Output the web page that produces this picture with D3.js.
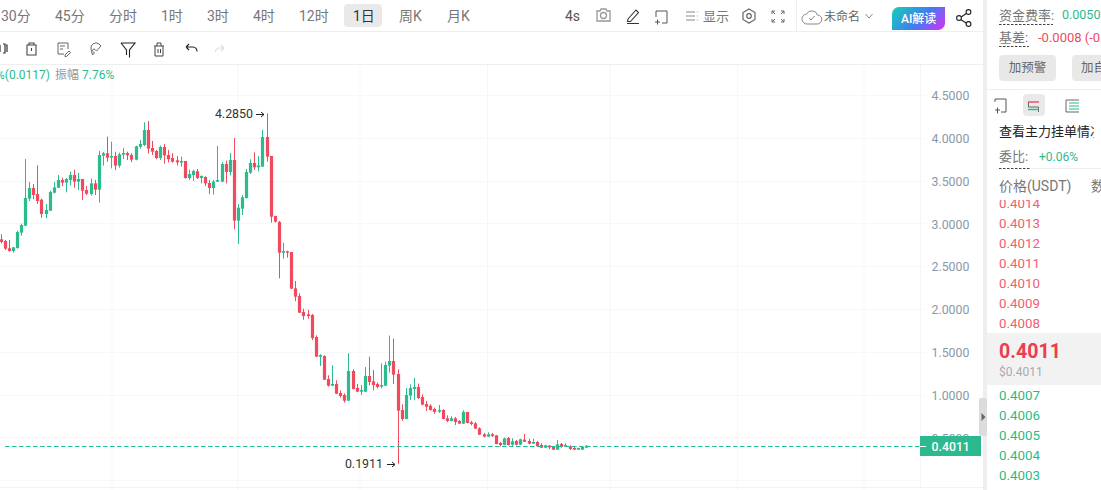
<!DOCTYPE html>
<html><head><meta charset="utf-8">
<script src="https://cdn.jsdelivr.net/npm/d3@7/dist/d3.min.js"></script>
<style>
html,body{margin:0;padding:0;background:#fff;overflow:hidden}
svg{display:block}
text{font-family:Roboto,"Noto Sans CJK SC",sans-serif}
</style></head><body>
<svg id="c" width="1101" height="490"></svg>
<script>
const opens=[2.814,2.794,2.709,2.678,2.713,2.892,2.974,3.289,3.414,3.343,
3.277,3.110,3.149,3.359,3.417,3.507,3.476,3.507,3.565,3.488,
3.519,3.390,3.343,3.468,3.394,3.791,3.819,3.768,3.787,3.675,
3.803,3.822,3.799,3.745,3.896,3.916,4.091,3.881,3.846,3.764,
3.893,3.799,3.764,3.737,3.710,3.729,3.530,3.565,3.608,3.530,
3.542,3.472,3.414,3.488,3.488,3.694,3.601,3.741,3.032,3.172,
3.297,3.593,3.706,3.655,3.663,4.009,3.787,3.086,3.016,2.658,
2.674,2.666,2.241,2.152,1.965,1.938,1.930,1.673,1.443,1.451,
1.182,1.104,1.124,1.019,0.995,0.929,1.276,1.077,1.034,1.034,
1.217,1.155,1.124,1.093,1.104,1.338,1.393,1.241,0.820,0.715,
0.988,1.066,1.089,0.972,0.890,0.871,0.832,0.801,0.820,0.723,
0.692,0.723,0.692,0.661,0.797,0.676,0.664,0.606,0.536,0.509,
0.536,0.524,0.435,0.411,0.493,0.415,0.458,0.415,0.474,0.458,
0.427,0.446,0.411,0.380,0.404,0.388,0.357,0.423,0.392,0.396,
0.376,0.357,0.357,0.380];
const closes=[2.783,2.705,2.678,2.720,2.899,2.981,3.297,3.414,3.332,3.262,
3.110,3.157,3.367,3.421,3.507,3.476,3.519,3.565,3.488,3.519,
3.382,3.347,3.468,3.394,3.799,3.819,3.768,3.787,3.675,3.807,
3.822,3.795,3.745,3.900,3.928,4.091,3.873,3.838,3.764,3.893,
3.795,3.749,3.721,3.713,3.729,3.530,3.577,3.612,3.530,3.554,
3.468,3.414,3.488,3.507,3.694,3.601,3.741,3.032,3.184,3.305,
3.601,3.706,3.655,3.678,4.009,3.780,3.079,3.020,2.658,2.678,
2.658,2.238,2.144,1.957,1.918,1.918,1.661,1.443,1.463,1.174,
1.104,1.124,1.011,0.984,0.929,1.276,1.065,1.034,1.054,1.217,
1.147,1.112,1.089,1.112,1.346,1.393,1.233,0.812,0.715,0.995,
1.077,1.089,0.960,0.883,0.859,0.820,0.797,0.820,0.715,0.692,
0.723,0.680,0.661,0.797,0.668,0.657,0.602,0.532,0.509,0.536,
0.517,0.423,0.411,0.489,0.411,0.454,0.415,0.478,0.450,0.427,
0.446,0.396,0.380,0.407,0.384,0.357,0.419,0.388,0.411,0.365,
0.357,0.376,0.388,0.4011];
const highs=[2.872,2.806,2.806,2.724,2.915,2.997,3.752,3.484,3.460,3.678,
3.289,3.227,3.382,3.484,3.565,3.534,3.530,3.604,3.628,3.589,
3.519,3.437,3.523,3.507,3.846,3.834,4.013,3.955,3.838,3.826,
3.881,3.838,3.819,3.908,3.974,4.181,4.196,3.963,3.857,3.908,
3.928,3.857,3.819,3.787,3.780,3.729,3.628,3.628,3.636,3.561,
3.550,3.507,3.507,3.904,3.717,3.733,3.822,3.998,3.227,3.332,
3.636,3.749,3.830,3.787,4.091,4.285,3.787,3.090,3.028,2.775,
2.681,2.666,2.327,2.183,2.004,1.988,1.942,1.692,1.471,1.459,
1.225,1.342,1.167,1.050,1.015,1.482,1.295,1.124,1.112,1.322,
1.443,1.287,1.143,1.365,1.385,1.689,1.654,1.295,0.886,1.077,
1.120,1.194,1.128,1.003,0.925,0.886,0.848,0.879,0.828,0.758,
0.746,0.739,0.703,0.816,0.797,0.692,0.680,0.618,0.552,0.559,
0.552,0.528,0.446,0.497,0.505,0.489,0.470,0.485,0.540,0.485,
0.485,0.458,0.431,0.415,0.411,0.392,0.470,0.435,0.431,0.407,
0.388,0.380,0.396,0.411];
const lows=[2.767,2.689,2.670,2.658,2.705,2.857,2.970,3.262,3.281,3.227,
3.067,3.059,3.145,3.351,3.414,3.437,3.363,3.445,3.417,3.390,
3.273,3.332,3.324,3.332,3.242,3.675,3.721,3.643,3.624,3.651,
3.752,3.741,3.717,3.737,3.873,3.904,3.815,3.799,3.749,3.741,
3.698,3.713,3.710,3.675,3.663,3.523,3.507,3.499,3.519,3.468,
3.437,3.343,3.336,3.484,3.480,3.468,3.561,2.931,2.760,3.098,
3.289,3.577,3.624,3.608,3.663,3.721,3.009,3.009,2.358,2.588,
2.600,2.234,2.090,1.953,1.875,1.887,1.638,1.439,1.334,1.171,
1.093,1.101,1.007,0.964,0.906,0.925,1.062,1.027,0.995,1.030,
1.108,1.050,1.073,1.073,1.101,1.256,1.124,0.1911,0.692,0.711,
0.937,0.933,0.949,0.875,0.809,0.812,0.777,0.785,0.711,0.680,
0.688,0.645,0.657,0.657,0.664,0.641,0.598,0.528,0.501,0.505,
0.505,0.419,0.396,0.407,0.407,0.400,0.407,0.411,0.446,0.419,
0.423,0.392,0.376,0.376,0.365,0.353,0.353,0.380,0.388,0.353,
0.353,0.353,0.353,0.376];
const yTicks=[0.5,1,1.5,2,2.5,3,3.5,4,4.5];
const lastPrice=0.4011, maxPrice=4.285, minPrice=0.1911;
const timeframes=["30分","45分","分时","1时","3时","4时","12时","1日","周K","月K"];
const askPrices=["0.4014","0.4013","0.4012","0.4011","0.4010","0.4009","0.4008"];
const bidPrices=["0.4007","0.4006","0.4005","0.4004","0.4003"];

const RED="#ef4a5e",GREEN="#2cba8f",GRID="#f7f7f7";
const svg=d3.select("#c");
const x=d3.scaleLinear().domain([0,opens.length-1]).range([1,586.4]);
const y=d3.scaleLinear().domain([0,4.5]).range([480.2,95]);
const vGrid=[112,238,360,487.5,610,737.5,864];

function T(tx,ty,s,size,fill,o={}){
  return svg.append("text").attr("x",tx).attr("y",ty).attr("dy","0.35em").attr("font-size",size)
    .attr("fill",fill).attr("font-weight",o.w||400).attr("text-anchor",o.a||"start").text(s);
}
function P(d,stroke="#444",w=1,fill="none"){return svg.append("path").attr("d",d).attr("stroke",stroke).attr("stroke-width",w).attr("fill",fill);}
function R(rx,ry,w,h,fill,r=0){return svg.append("rect").attr("x",rx).attr("y",ry).attr("width",w).attr("height",h).attr("fill",fill).attr("rx",r);}

// grid
svg.append("g").selectAll("line").data([0].concat(yTicks)).join("line")
  .attr("x1",0).attr("x2",d=>d===0?920:925).attr("y1",d=>Math.round(y(d))+.5).attr("y2",d=>Math.round(y(d))+.5).attr("stroke",GRID);
svg.append("g").selectAll("line").data(vGrid).join("line")
  .attr("x1",d=>d).attr("x2",d=>d).attr("y1",65).attr("y2",490).attr("stroke",GRID);
P("M920.5 65V487","#f4f4f4");
P("M0 487.5H983","#f3f3f3");
// axis
const ax=svg.append("g").attr("transform","translate(931.5,0.7)").call(d3.axisRight(y).tickValues(yTicks).tickSize(0).tickPadding(0).tickFormat(d3.format(".4f")));
ax.select(".domain").remove();
ax.selectAll("text").attr("font-size",12.3).attr("fill","#8b98a6").style("font-family","Roboto");
// candles
const idx=d3.range(opens.length);
const col=i=>closes[i]>=opens[i]?GREEN:RED;
svg.append("g").selectAll("line").data(idx).join("line")
  .attr("x1",i=>Math.floor(x(i))+.5).attr("x2",i=>Math.floor(x(i))+.5)
  .attr("y1",i=>y(highs[i])).attr("y2",i=>y(lows[i])).attr("stroke",col).attr("stroke-width",1);
svg.append("g").selectAll("rect").data(idx).join("rect")
  .attr("x",i=>Math.floor(x(i))+.5-1.6).attr("width",3.2)
  .attr("y",i=>y(Math.max(opens[i],closes[i])))
  .attr("height",i=>Math.max(1,Math.abs(y(opens[i])-y(closes[i])))).attr("fill",col);
// last price line
const lastY=Math.round(y(lastPrice))+.5;
svg.append("line").attr("x1",5).attr("x2",920).attr("y1",lastY).attr("y2",lastY)
  .attr("stroke","#1fc096").attr("stroke-dasharray","4.5 2.5").attr("stroke-width",1);
R(920,436,61,20,"#2cb98f");
P(`M920 ${lastY}H926`,"#fff");
T(931.5,446.3,d3.format(".4f")(lastPrice),12.3,"#fff",{w:500});
// extreme labels
T(253,y(maxPrice),d3.format(".4f")(maxPrice),12.4,"#333",{a:"end"});
T(383,y(minPrice)-.5,d3.format(".4f")(minPrice),12.4,"#333",{a:"end"});
const arrow=(ax0,ay)=>P(`M${ax0} ${ay}h8M${ax0+5} ${ay-2.5}l3 2.5l-3 2.5`,"#222",1);
arrow(256,Math.round(y(maxPrice))+1.5);
arrow(387,Math.round(y(minPrice))+.5);

// top toolbar
const tabX=[1,55,109,161,207,253,299,353,399,447];
R(344,4,38,23,"#e9e9e9",4);
timeframes.forEach((s,i)=>T(tabX[i],16,s,14,i===7?"#333":"#777"));
P("M0 31.5H983","#eee");P("M0 64.5H983","#eee");
P("M796.5 0V31","#eee");
T(565,16,"4s",14,"#555");
// camera
P("M597 11h3l1-2h5l1 2h3v10h-13z","#999",1.3);svg.append("circle").attr("cx",603.5).attr("cy",15.5).attr("r",3).attr("fill","none").attr("stroke","#999").attr("stroke-width",1.3);
// pen
P("M628 19l8-9 2.5 2.5-8 9h-3zM627 23.5h12","#333",1.1);
// corner plus
P("M656 11h11v12h-5M656 11v6M655 22h5M657.5 19.5v5","#555",1);
// display
P("M686 12h9M686 16h9M686 20h9","#888",1.2);P("M696.5 12h2M696.5 16h2M696.5 20h2","#ccc",1.2);
T(703,16,"显示",13,"#777");
P("M749 9l6 3.5v7L749 23l-6-3.5v-7z","#666",1.2);svg.append("circle").attr("cx",749).attr("cy",16).attr("r",2.3).attr("fill","none").attr("stroke","#666").attr("stroke-width",1.2);
P("M772 14v-3h3M781 11h3v3M784 19v3h-3M775 22h-3v-3M772 11l3 3M784 11l-3 3M784 22l-3-3M772 22l3-3","#666",1);
// cloud
P("M809 24h8a4.5 4.5 0 0 0 .5-9a6 6 0 0 0-11-1a5 5 0 0 0 1 10z","#888",1);P("M809 18l2 2 3.5-4","#888",1);
T(824,17,"未命名",12,"#666");
P("M865.5 14l3.5 4 3.5-4","#888",1);
const defs=svg.append("defs");
const g=defs.append("linearGradient").attr("id","ai").attr("x1",0).attr("x2",1).attr("y1",.3).attr("y2",.7);
g.append("stop").attr("offset",0).attr("stop-color","#1cc3c0");g.append("stop").attr("offset",.55).attr("stop-color","#3f7df0");g.append("stop").attr("offset",1).attr("stop-color","#c13cf5");
P("M899 7H945V23a7 7 0 0 1-7 7H892V14a7 7 0 0 1 7-7z","none",0,"url(#ai)");
T(901,18.5,"AI解读",12,"#fff",{w:500});
P("M968.5 12l-9.5 6.5 9.5 6","#222",1.1);
[[968.5,12],[959,18],[968.5,24]].forEach(c=>svg.append("circle").attr("cx",c[0]).attr("cy",c[1]).attr("r",2.4).attr("fill","#fff").attr("stroke","#222").attr("stroke-width",1.1));

// second toolbar
P("M0 45v7M3 44h2v9H3M6 45h1v7","#333",1.2);
P("M27 45h9v10h-9zM29 45v-2h5v2M31.5 48v3","#444",1.1);
P("M58 43h10v6M58 43v11h6M60 46h5M60 49h3M65 55l4-4 1.5 1.5-4 4h-1.5z","#666",1);
P("M91 49a5 5 0 0 1 8-5l2 2-4.5 5-1.5-1.5a1.2 1.2 0 0 0-2 2l1.5 1.5-2 2z","#666",1);
P("M121 43h14l-5.5 7v7.5M121 43l5.5 7v5","#222",1.1);
P("M154 46h10M155 46v10h8V46M157 46v-3h4v3M158 49v4M160.5 49v4","#444",1);
P("M186 47l3-3M186 47l3 3M186 47h7a4 4 0 0 1 4 4.5","#222",1.1);
P("M224 48l-3-3M224 48l-3 3M224 48h-5a4 4 0 0 0-3.5 4","#ddd",1.1);
// stats line
T(-4,75,"%(0.0117)",12,GREEN);
T(55,75,"振幅",12,"#999");
T(82,75,"7.76%",12,GREEN);

// right panel
R(983,0,4,490,"#eeeeee");
R(987,0,114,490,"#fff");
R(979,398,8,38,"#dcdcdc",2);
P("M981.5 413l4 4-4 4z","none",0,"#666");
T(999,15,"资金费率:",13,"#777");
P("M999 24.5h54","#444",1).attr("stroke-dasharray","2.5 1.5");
T(1062,15,"0.0050%",12.5,GREEN);
T(999,37,"基差:",13,"#777");
P("M999 46.5h30","#444",1).attr("stroke-dasharray","2.5 1.5");
T(1038,37,"-0.0008 (-0.20%)",13,RED);
R(999,55,57,26,"#e8e8e8",4);T(1027.5,68,"加预警",12.5,"#666",{a:"middle"});
R(1072,55,60,26,"#e8e8e8",4);T(1081,68,"加自选",12.5,"#666");
P("M987 89.5H1101","#eee");
P("M995 102v-3h11v13h-5M995 110h5M997.5 107.5v6","#555",1);
R(1023,94,22,22,"#e9e9e9",4);
P("M1028.5 102v5h10v5","#666",1);P("M1028 102h11","#ef4a5e",1.4);P("M1028 109.5h11","#2cba8f",1.4);
P("M1066 100h13M1066 100v12h13","#666",1);P("M1069 103h10M1069 106h10M1069 109h10","#2cba8f",1.1);
T(999,131,"查看主力挂单情况",13,"#222");
R(1094,122,7,18,"#fff");
T(999,156,"委比:",13,"#777");
P("M999 168.5h32","#444",1).attr("stroke-dasharray","2.5 1.5");
T(1039,156.5,"+0.06%",12,GREEN);
askPrices.forEach((s,i)=>T(999,203+i*20,s,13.3,"#f0606f"));
R(987,169,114,31,"#fff");
P("M1031 168.5H1101","#eee");
T(999,186,"价格(USDT)",14,"#777");
T(1091,186,"数量",14,"#777");
R(987,333,114,52,"#f2f2f2");
T(999,351.5,d3.format(".4f")(lastPrice),19.6,"#ee3b4f",{w:700});
T(999,371.5,"$0.4011",12,"#aaa");
bidPrices.forEach((s,i)=>T(999,395+i*20,s,13.3,"#1fbc8b"));
</script></body></html>
